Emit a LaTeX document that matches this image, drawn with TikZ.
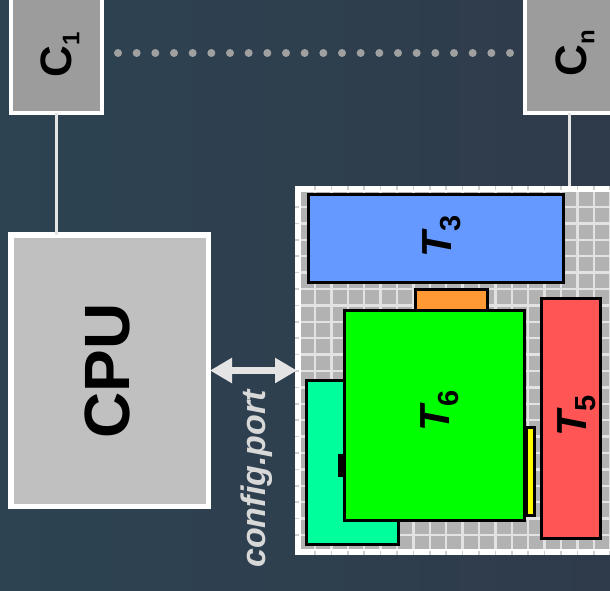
\documentclass[tikz,border=0pt]{standalone}
\usepackage{fontspec}
\setmainfont{Liberation Sans}
\usetikzlibrary{arrows.meta}
\definecolor{bgl}{HTML}{2D4352}
\definecolor{bgm}{HTML}{2D3456}
\definecolor{bgr}{HTML}{2F3B4A}
\definecolor{cgray}{HTML}{9C9C9C}
\definecolor{cpugray}{HTML}{C0C0C0}
\definecolor{fpgagray}{HTML}{B2B2B2}
\definecolor{gridc}{HTML}{E2E2E2}
\definecolor{tickc}{HTML}{CFCFCF}
\definecolor{linkc}{HTML}{E4E4E4}
\definecolor{dotc}{HTML}{A0A0A0}
\definecolor{tblue}{HTML}{6699FF}
\definecolor{torange}{HTML}{FF9933}
\definecolor{tmint}{HTML}{00FF9C}
\definecolor{tgreen}{HTML}{00FF00}
\definecolor{tyellow}{HTML}{FFFF00}
\definecolor{tred}{HTML}{FF5555}
\definecolor{porttext}{HTML}{D8D8D8}
\newcommand{\lowsub}[3]{\raisebox{-#1}{\fontsize{#2}{#2}\selectfont #3}}
\begin{document}
\begin{tikzpicture}[x=1pt,y=-1pt,
  cbox/.style={draw=white, line width=4pt, fill=cgray, inner sep=0pt, outer sep=0pt},
  cpubox/.style={draw=white, line width=5.5pt, fill=cpugray, inner sep=0pt, outer sep=0pt},
  blk/.style={draw=black, line width=3pt, inner sep=0pt, outer sep=0pt},
  lbl/.style={rotate=90, inner sep=0pt, text=black},
  link/.style={draw=linkc, line width=3pt},
  gridline/.style={draw=gridc, line width=2.5pt},
  tickline/.style={draw=tickc, line width=1.5pt},
  port/.style={draw=linkc, line width=7pt,
    {Triangle[length=22pt,width=24pt]}-{Triangle[length=22pt,width=24pt]}}
]
\useasboundingbox (0,0) rectangle (610,590);
\clip (0,0) rectangle (610,590);
% background
\shade[left color=bgl, middle color=bgm, right color=bgr] (0,0) rectangle (610,590);

% C boxes
\node[cbox, minimum width=91pt, minimum height=133pt] (c1) at (56.5,46.5) {};
\node[cbox, minimum width=115pt, minimum height=133pt] (cn) at (582.5,46.5) {};
\node[lbl, font=\bfseries\fontsize{44}{44}\selectfont] (c1t) at (60,55) {C\lowsub{8pt}{24}{1}};
\node[lbl, font=\bfseries\fontsize{44}{44}\selectfont] (cnt) at (575,53.5) {C\lowsub{8pt}{24}{n}};

% dots between C1 and Cn
\foreach \k in {0,...,21} \fill[dotc] ({118+392/21*\k},53) circle (4pt);

% CPU
\node[cpubox, minimum width=197.5pt, minimum height=271.5pt] (cpu) at (109.5,370.5) {};
\node[lbl, font=\bfseries\fontsize{64}{64}\selectfont] (cput) at (107,371) {CPU};

% FPGA area
\node[fill=white, inner sep=0pt, outer sep=0pt, minimum width=345pt, minimum height=369pt] (fpga) at (467.5,370.5) {};
\fill[fpgagray] (301,192) rectangle (640,549);
\begin{scope}
  \clip (301,192) rectangle (615,549);
  \foreach \k in {-1,...,19} \draw[gridline] ({315+16.4*\k},192) -- ++(0,357);
  \foreach \k in {-1,...,22} \draw[gridline] (301,{207+16.4*\k}) -- ++(320,0);
\end{scope}
\foreach \k in {0,...,18} {
  \draw[tickline] ({315+16.4*\k},186) -- ++(0,4);
  \draw[tickline] ({315+16.4*\k},555) -- ++(0,-4);
}
\foreach \k in {0,...,20} \draw[tickline] (295,{207+16.4*\k}) -- ++(4,0);

% links
\coordinate (cnx) at (569,0);
\draw[link] (c1.south) -- (c1.south |- cpu.north);
\draw[link] (cn.south -| cnx) -- (fpga.north -| cnx);
\draw[port] ([xshift=1.75pt]cpu.east) -- ([xshift=2pt]fpga.west);
\node[rotate=90, inner sep=0pt, text=porttext, font=\bfseries\itshape\fontsize{34}{34}\selectfont] (portt) at (257,479) {config.port};

% tasks
\node[blk, fill=tmint, minimum width=92pt, minimum height=164pt] (tm) at (352.5,462.5) {};
\fill[black] (338,454) rectangle (344,477);
\node[blk, fill=torange, minimum width=72pt, minimum height=20.5pt] (to) at (451.5,299.75) {};
\node[blk, fill=tyellow, minimum width=8pt, minimum height=88pt] (ty) at (530.5,471.5) {};
\node[blk, fill=tgreen, minimum width=180pt, minimum height=210pt] (t6) at (434.5,415.5) {};
\node[blk, fill=tred, minimum width=59pt, minimum height=240pt] (t5) at (571,418.5) {};
\node[blk, fill=tblue, minimum width=255pt, minimum height=88pt] (t3) at (436,238.5) {};

\node[lbl, font=\fontsize{42}{42}\selectfont] (t3t) at (442,236.5) {{\bfseries\itshape T}\lowsub{9pt}{29}{\bfseries 3}};
\node[lbl, font=\fontsize{42}{42}\selectfont] (t6t) at (440,411) {{\bfseries\itshape T}\lowsub{9pt}{29}{\bfseries 6}};
\node[lbl, font=\fontsize{42}{42}\selectfont] (t5t) at (577,416) {{\bfseries\itshape T}\lowsub{9pt}{29}{\bfseries 5}};
\end{tikzpicture}
\end{document}
